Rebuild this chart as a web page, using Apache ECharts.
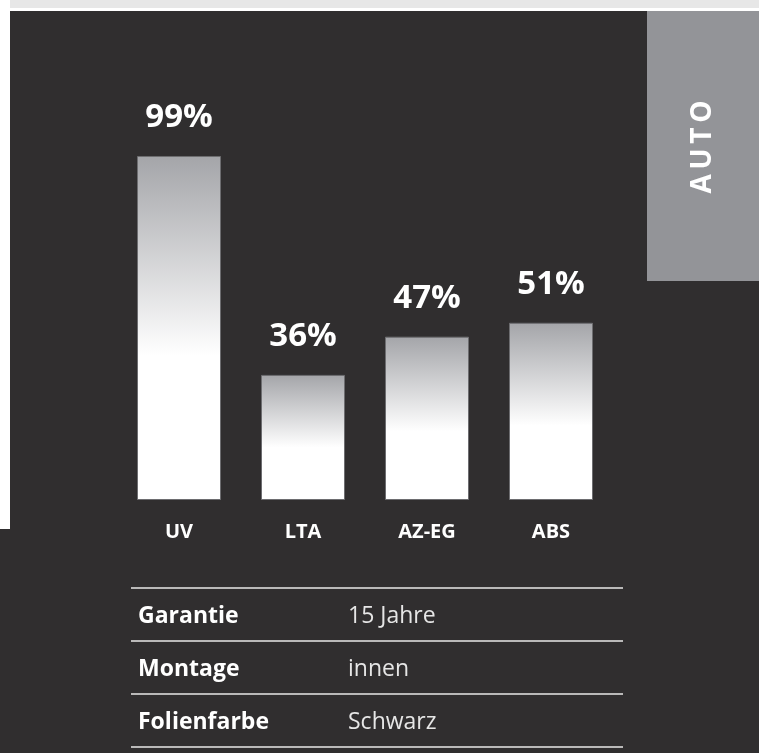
<!DOCTYPE html>
<html>
<head>
<meta charset="utf-8">
<script src="https://cdn.jsdelivr.net/npm/echarts@6/dist/echarts.min.js"></script>
<style>
    html, body {margin: 0; padding: 0; background: #ffffff;}
    #chart {width: 759px; height: 753px;}
</style>
</head>
<body>
<div id="chart"></div>
<script>
var categories = ['UV', 'LTA', 'AZ-EG', 'ABS'];
var values = [99, 36, 47, 51];
var tableLabels = ['Garantie', 'Montage', 'Folienfarbe'];
var tableValues = ['15 Jahre', 'innen', 'Schwarz'];
var sideTag = 'AUTO';

var fontName = '"Open Sans", "DejaVu Sans", sans-serif';
var chart = echarts.init(document.getElementById('chart'));

// 表格：横线 + 文字
var rowTop = 588, rowH = 53;
var tableGraphics = [];
for (var i = 0; i <= tableLabels.length; i++) {
    tableGraphics.push({
        type: 'line',
        shape: {x1: 131, y1: rowTop + i * rowH, x2: 623, y2: rowTop + i * rowH},
        style: {stroke: '#e8e8e8', lineWidth: 1.5}
    });
}
tableLabels.forEach(function (name, i) {
    tableGraphics.push({
        type: 'text', x: 138, y: rowTop + i * rowH + rowH / 2 + 2,
        style: {text: name, fill: '#ffffff', font: 'bold 23px ' + fontName, verticalAlign: 'middle'}
    });
    tableGraphics.push({
        type: 'text', x: 348, y: rowTop + i * rowH + rowH / 2 + 2,
        style: {text: tableValues[i], fill: '#e6e6e6', font: '23px ' + fontName, verticalAlign: 'middle'}
    });
});

var option = {
    backgroundColor: '#302e2f',
    animation: false,
    grid: {left: 117, right: 146, top: 152.5, bottom: 253},
    xAxis: {
        type: 'category',
        data: categories,
        axisLine: {show: false},
        axisTick: {show: false},
        axisLabel: {
            color: '#ffffff',
            fontFamily: fontName,
            fontWeight: 'bold',
            fontSize: 20,
            margin: 22
        }
    },
    yAxis: {
        type: 'value',
        min: 0,
        max: 100,
        show: false
    },
    series: [{
        type: 'bar',
        data: values,
        barWidth: 84,
        itemStyle: {
            borderColor: '#6d6d70',
            borderWidth: 1,
            color: new echarts.graphic.LinearGradient(0, 0, 0, 1, [
                {offset: 0, color: '#a4a5a9'},
                {offset: 0.58, color: '#ffffff'},
                {offset: 1, color: '#ffffff'}
            ])
        },
        label: {
            show: true,
            position: 'top',
            distance: 22,
            formatter: '{c}%',
            color: '#ffffff',
            fontFamily: fontName,
            fontWeight: 'bold',
            fontSize: 33
        }
    }],
    graphic: [
        {type: 'rect', shape: {x: 0, y: 0, width: 759, height: 11}, style: {fill: '#ffffff'}},
        {type: 'rect', shape: {x: 10, y: 0, width: 749, height: 8}, style: {fill: '#e7e7e7'}},
        {type: 'rect', shape: {x: 0, y: 11, width: 10, height: 518}, style: {fill: '#ffffff'}},
        {type: 'rect', shape: {x: 647, y: 11, width: 112, height: 270}, style: {fill: '#939498'}},
        {
            type: 'text', x: 703, y: 147, rotation: Math.PI / 2,
            style: {
                text: sideTag.split('').join('\u2009'),
                fill: '#ffffff',
                font: 'bold 28px ' + fontName,
                align: 'center',
                verticalAlign: 'middle'
            }
        }
    ].concat(tableGraphics)
};

chart.setOption(option);
</script>
</body>
</html>
